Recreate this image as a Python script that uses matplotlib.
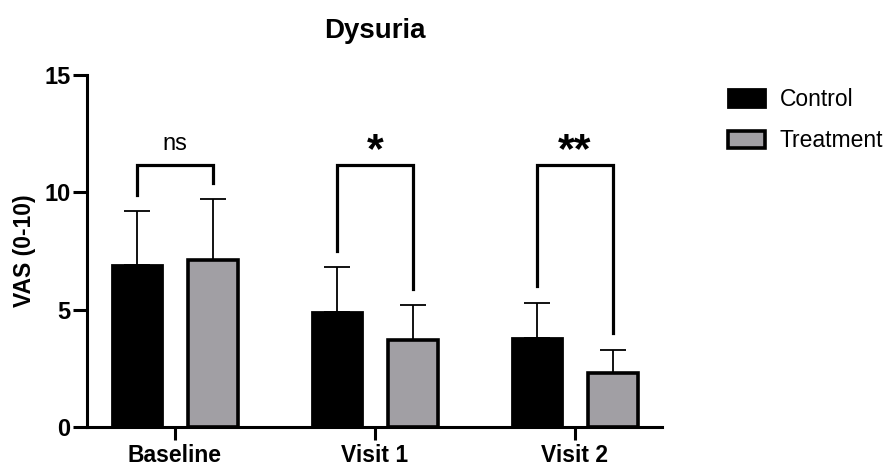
import matplotlib
matplotlib.use("Agg")
import matplotlib.pyplot as plt
import numpy as np

plt.rcParams['font.family'] = ['Liberation Sans', 'DejaVu Sans']

visits = ["Baseline", "Visit 1", "Visit 2"]
control_mean = [6.9, 4.9, 3.8]
control_sd = [2.3, 1.9, 1.5]
treatment_mean = [7.1, 3.7, 2.3]
treatment_sd = [2.6, 1.5, 1.0]
signif = ["ns", "*", "**"]

x = np.arange(len(visits))
off = 0.19
w = 0.25

fig = plt.figure(figsize=(8.92, 4.68), dpi=100)
ax = fig.add_axes([0.0975, 0.0876, 0.6445, 0.7521])

b1 = ax.bar(x - off, control_mean, w, color="black", edgecolor="black", linewidth=2.0,
            label="Control", zorder=3)
b2 = ax.bar(x + off, treatment_mean, w, color="#a19fa4", edgecolor="black", linewidth=2.6,
            label="Treatment", zorder=3)
ax.errorbar(x - off, control_mean, yerr=[np.zeros(3), control_sd], fmt="none",
            ecolor="black", elinewidth=1.3, capsize=9.5, capthick=1.3, zorder=2)
ax.errorbar(x + off, treatment_mean, yerr=[np.zeros(3), treatment_sd], fmt="none",
            ecolor="black", elinewidth=1.3, capsize=9.5, capthick=1.3, zorder=2)

# significance brackets
top = 11.15
for i in range(len(visits)):
    y1 = control_mean[i] + control_sd[i] + 0.7
    y2 = treatment_mean[i] + treatment_sd[i] + 0.7
    ax.plot([x[i] - off, x[i] - off, x[i] + off, x[i] + off], [y1, top, top, y2],
            color="black", lw=2.3, solid_joinstyle="miter", clip_on=False)
    if signif[i] == "ns":
        ax.text(x[i], 11.8, "ns", ha="center", va="baseline", fontsize=17)
    else:
        ax.text(x[i], 11.3, signif[i], ha="center", va="baseline", fontsize=31,
                fontweight="bold")

ax.set_xlim(-0.44, 2.435)
ax.set_ylim(0, 15)
ax.set_yticks([0, 5, 10, 15])
ax.set_xticks(x)
ax.set_xticklabels(visits, fontsize=16.5, fontweight="bold")
for lab in ax.get_yticklabels():
    lab.set_fontsize(17)
    lab.set_fontweight("bold")
ax.tick_params(axis="y", length=10, width=2.2, pad=2)
ax.tick_params(axis="x", length=9, width=2.2, pad=3)
for s in ["top", "right"]:
    ax.spines[s].set_visible(False)
for s in ["left", "bottom"]:
    ax.spines[s].set_linewidth(2.2)
ax.set_ylabel("VAS (0-10)", fontsize=16.5, fontweight="bold", labelpad=6)

fig.text(0.42, 0.933, "Dysuria", ha="center", va="center", fontsize=20,
         fontweight="bold")

ax.legend(handles=[b1, b2], loc="upper left", bbox_to_anchor=(0.816, 0.812),
          bbox_transform=fig.transFigure, frameon=False, fontsize=16.5,
          handlelength=1.6, handleheight=0.8, handletextpad=0.65,
          labelspacing=0.8, borderpad=0, borderaxespad=0)

fig.savefig("out.png", dpi=100)
